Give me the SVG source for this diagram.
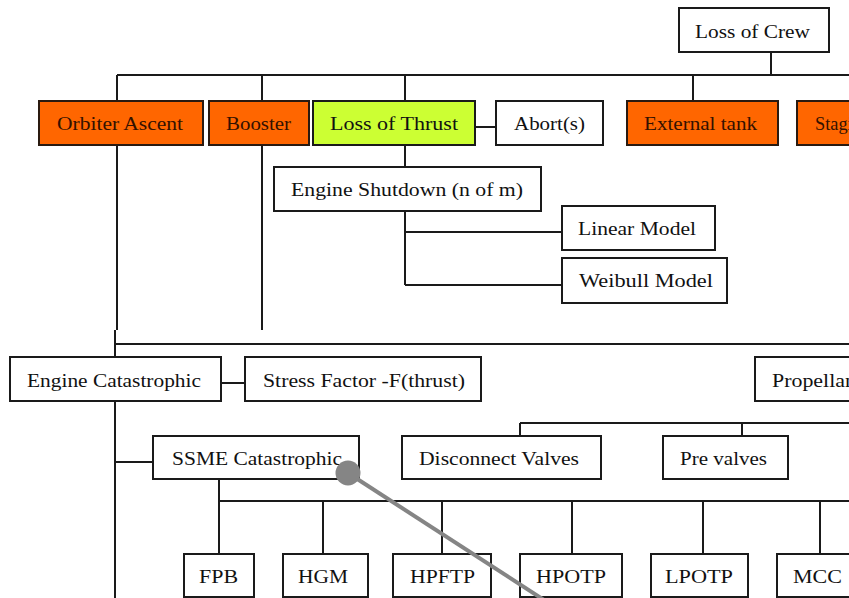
<svg xmlns="http://www.w3.org/2000/svg" width="849" height="598" viewBox="0 0 849 598">
<style>
.b{fill:#ffffff;stroke:#1a1a1a;stroke-width:2}
.o{fill:#ff6600;stroke:#2a1a10;stroke-width:2}
.g{fill:#ccff33;stroke:#1a1a1a;stroke-width:2}
.t{font-family:"Liberation Serif","Times New Roman",serif;font-size:18px;fill:#111}
.to{font-family:"Liberation Serif","Times New Roman",serif;font-size:18px;fill:#331100}
.c{fill:none;stroke:#1a1a1a;stroke-width:2}
</style>
<rect width="849" height="598" fill="#ffffff"/>
<g id="connectors" class="c">
<path d="M117,75H849"/>
<path d="M771,52V75"/>
<path d="M117,75V101M262,75V101M405,75V101M693,75V101"/>
<path d="M475,127H496"/>
<path d="M405,145V167"/>
<path d="M405,211V285M405,232H562M405,285H562"/>
<path d="M117,145V330M262,145V330"/>
<path d="M115,330V357M115,344H849"/>
<path d="M221,383H245"/>
<path d="M115,401V598M115,462H153"/>
<path d="M520,423H849M520,423V436M742,423V436"/>
<path d="M219,479V501H849"/>
<path d="M219,501V554M323,501V554M442,501V554M572,501V554M703,501V554M820,501V554"/>
</g>
<g id="loss-of-crew"><rect class="b" x="679" y="8" width="150" height="44"/><text class="t" x="695" y="38" textLength="115" lengthAdjust="spacingAndGlyphs">Loss of Crew</text></g>
<g id="orbiter-ascent"><rect class="o" x="39" y="101" width="164" height="44"/><text class="to" x="57" y="130" textLength="126" lengthAdjust="spacingAndGlyphs">Orbiter Ascent</text></g>
<g id="booster"><rect class="o" x="209" y="101" width="100" height="44"/><text class="to" x="226" y="130" textLength="65" lengthAdjust="spacingAndGlyphs">Booster</text></g>
<g id="loss-of-thrust"><rect class="g" x="313" y="101" width="162" height="44"/><text class="t" x="330" y="130" textLength="128" lengthAdjust="spacingAndGlyphs">Loss of Thrust</text></g>
<g id="aborts"><rect class="b" x="496" y="101" width="107" height="44"/><text class="t" x="514" y="130" textLength="71" lengthAdjust="spacingAndGlyphs">Abort(s)</text></g>
<g id="external-tank"><rect class="o" x="627" y="101" width="151" height="44"/><text class="to" x="644" y="130" textLength="113" lengthAdjust="spacingAndGlyphs">External tank</text></g>
<g id="staging"><rect class="o" x="797" y="101" width="70" height="44"/><text class="to" x="815" y="130" textLength="56" lengthAdjust="spacingAndGlyphs">Staging</text></g>
<g id="engine-shutdown"><rect class="b" x="274" y="167" width="267" height="44"/><text class="t" x="291" y="196" textLength="232" lengthAdjust="spacingAndGlyphs">Engine Shutdown (n of m)</text></g>
<g id="linear-model"><rect class="b" x="562" y="206" width="153" height="44"/><text class="t" x="578" y="235" textLength="118" lengthAdjust="spacingAndGlyphs">Linear Model</text></g>
<g id="weibull-model"><rect class="b" x="562" y="258" width="165" height="45"/><text class="t" x="579" y="287" textLength="134" lengthAdjust="spacingAndGlyphs">Weibull Model</text></g>
<g id="engine-catastrophic"><rect class="b" x="10" y="357" width="211" height="44"/><text class="t" x="27" y="387" textLength="174" lengthAdjust="spacingAndGlyphs">Engine Catastrophic</text></g>
<g id="stress-factor"><rect class="b" x="245" y="357" width="236" height="44"/><text class="t" x="263" y="387" textLength="202" lengthAdjust="spacingAndGlyphs">Stress Factor -F(thrust)</text></g>
<g id="propellant"><rect class="b" x="755" y="357" width="110" height="44"/><text class="t" x="772" y="387" textLength="90" lengthAdjust="spacingAndGlyphs">Propellant</text></g>
<g id="ssme-catastrophic"><rect class="b" x="153" y="436" width="206" height="43"/><text class="t" x="172" y="465" textLength="170" lengthAdjust="spacingAndGlyphs">SSME Catastrophic</text></g>
<g id="disconnect-valves"><rect class="b" x="402" y="436" width="199" height="43"/><text class="t" x="419" y="465" textLength="160" lengthAdjust="spacingAndGlyphs">Disconnect Valves</text></g>
<g id="pre-valves"><rect class="b" x="663" y="436" width="125" height="43"/><text class="t" x="680" y="465" textLength="87" lengthAdjust="spacingAndGlyphs">Pre valves</text></g>
<g id="fpb"><rect class="b" x="184" y="554" width="70" height="43"/><text class="t" x="199" y="583" textLength="39" lengthAdjust="spacingAndGlyphs">FPB</text></g>
<g id="hgm"><rect class="b" x="283" y="554" width="85" height="43"/><text class="t" x="298" y="583" textLength="50" lengthAdjust="spacingAndGlyphs">HGM</text></g>
<g id="hpftp"><rect class="b" x="393" y="554" width="98" height="43"/><text class="t" x="410" y="583" textLength="65" lengthAdjust="spacingAndGlyphs">HPFTP</text></g>
<g id="hpotp"><rect class="b" x="520" y="554" width="102" height="43"/><text class="t" x="536" y="583" textLength="70" lengthAdjust="spacingAndGlyphs">HPOTP</text></g>
<g id="lpotp"><rect class="b" x="651" y="554" width="97" height="43"/><text class="t" x="665" y="583" textLength="68" lengthAdjust="spacingAndGlyphs">LPOTP</text></g>
<g id="mcc"><rect class="b" x="777" y="554" width="90" height="43"/><text class="t" x="793" y="583" textLength="49" lengthAdjust="spacingAndGlyphs">MCC</text></g>
<g id="pointer">
<line x1="348" y1="473" x2="544" y2="600" stroke="#858585" stroke-width="4"/>
<circle cx="348" cy="473" r="12.5" fill="#858585"/>
</g>
</svg>
